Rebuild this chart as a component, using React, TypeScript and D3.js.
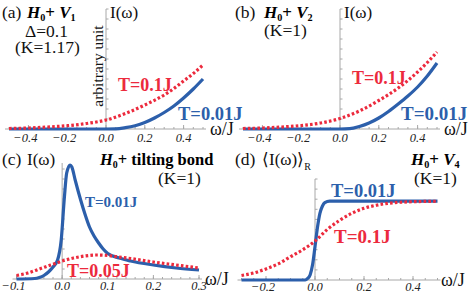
import React from 'react'
import * as d3 from 'd3'

const FONT = '"Liberation Serif", "Times New Roman", serif'
const BLUE = '#2c5fab'
const RED = '#ec2a3d'
const AXIS = '#a8a8a8'

// [omega/J, intensity (arbitrary unit)]
const redA = [[-0.5, 0.05], [-0.4, 0.1], [-0.3, 0.2], [-0.2, 0.33], [-0.1, 0.55], [0, 0.9], [0.1, 1.55], [0.2, 2.4], [0.3, 3.4], [0.35, 4.05], [0.4, 4.8], [0.45, 5.55], [0.5, 6.4]]
const blueA = [[-0.5, 0], [0, 0], [0.05, 0.01], [0.1, 0.13], [0.15, 0.33], [0.2, 0.65], [0.25, 1.1], [0.3, 1.65], [0.35, 2.3], [0.4, 3.1], [0.45, 4.0], [0.5, 5.0]]
const redB = [[-0.5, 0.05], [-0.4, 0.1], [-0.3, 0.2], [-0.2, 0.35], [-0.1, 0.6], [0, 1.05], [0.1, 1.8], [0.2, 2.85], [0.3, 4.1], [0.35, 4.85], [0.4, 5.7], [0.45, 6.65], [0.5, 7.7]]
const blueB = [[-0.5, 0], [0, 0], [0.05, 0.03], [0.1, 0.25], [0.15, 0.6], [0.2, 1.1], [0.25, 1.75], [0.3, 2.5], [0.35, 3.3], [0.4, 4.2], [0.45, 5.3], [0.5, 6.6]]
const blueC = [[-0.1, 0], [-0.06, 0.05], [-0.05, 0.15], [-0.04, 0.35], [-0.03, 0.7], [-0.02, 1.2], [-0.01, 1.9], [-0.002, 3.9], [0.005, 8.2], [0.01, 10.6], [0.0175, 11.4], [0.0213, 11.2], [0.0286, 9.9], [0.04, 8.0], [0.05, 6.5], [0.06, 5.2], [0.07, 4.3], [0.08, 3.6], [0.09, 3.0], [0.1, 2.55], [0.125, 2.1], [0.15, 1.8], [0.2, 1.4], [0.25, 1.1], [0.3, 0.9]]
const redC = [[-0.1, 0.35], [-0.075, 0.6], [-0.05, 1.0], [-0.025, 1.4], [0, 1.8], [0.025, 2.1], [0.05, 2.3], [0.075, 2.4], [0.1, 2.35], [0.125, 2.2], [0.15, 2.05], [0.2, 1.7], [0.25, 1.4], [0.3, 1.1]]
const blueD = [[-0.3, 0], [-0.04, 0], [-0.03, 0.15], [-0.02, 0.5], [-0.01, 1.5], [0, 3.3], [0.01, 5.2], [0.02, 6.6], [0.03, 7.3], [0.04, 7.65], [0.06, 7.8], [0.5, 7.8]]
const redD = [[-0.3, 0.45], [-0.25, 0.7], [-0.2, 1.1], [-0.15, 1.6], [-0.1, 2.3], [-0.05, 3.0], [0, 3.85], [0.05, 5.0], [0.1, 5.9], [0.15, 6.6], [0.2, 7.1], [0.25, 7.4], [0.3, 7.6], [0.35, 7.7], [0.4, 7.75], [0.5, 7.8]]

const ticksAB = [-0.4, -0.2, 0, 0.2, 0.4]
const ticksC = [-0.1, 0, 0.1, 0.2, 0.3]
const ticksD = [-0.2, 0, 0.2, 0.4]

const fmt = (v: number) => (v < 0 ? '\u2212' : '') + Math.abs(v).toFixed(1)

function Ham({ x, y, sub, size = 17, rest }: any) {
  return (
    <text x={x} y={y} fontFamily={FONT} fontSize={size} fontWeight="bold">
      <tspan fontStyle="italic">H</tspan>
      <tspan fontSize={size * 0.6} dy={3}>0</tspan>
      <tspan dy={-3}>+ </tspan>
      {rest ? <tspan>{rest}</tspan> : (
        <>
          <tspan fontStyle="italic">V</tspan>
          <tspan fontSize={size * 0.6} dy={3}>{sub}</tspan>
        </>
      )}
    </text>
  )
}

function Panel({ p }: any) {
  const x = d3.scaleLinear().domain(p.xDomain).range(p.xRange)
  const y = d3.scaleLinear().domain([0, p.yMax]).range([p.axisY, p.topY])
  const line = d3.line<number[]>().x((d) => x(d[0])).y((d) => y(d[1])).curve(d3.curveMonotoneX)
  const minor = d3.range(p.xDomain[0], p.xDomain[1] + 1e-9, p.minorStep)
  const x0 = x(0)
  return (
    <g>
      {/* axes */}
      <line x1={p.xRange[0] - 4} x2={p.xRange[1] + 3} y1={p.axisY} y2={p.axisY} stroke={AXIS} strokeWidth={1} />
      <line x1={x0} x2={x0} y1={p.axisY} y2={p.topY} stroke={AXIS} strokeWidth={1} />
      {minor.map((v, i) => (
        <line key={'m' + i} x1={x(v)} x2={x(v)} y1={p.axisY} y2={p.axisY - 2} stroke={AXIS} />
      ))}
      {p.ticks.map((v: number) => (
        <g key={v}>
          <line x1={x(v)} x2={x(v)} y1={p.axisY} y2={p.axisY - 4} stroke={AXIS} />
          <text x={x(v) - (v < 0 ? 3 : 0)} y={p.axisY + p.labelDy} textAnchor="middle" fontFamily={FONT} fontStyle="italic" fontSize={12.5} fill="#222">{fmt(v)}</text>
        </g>
      ))}
      {d3.range(1, p.yMax + 1e-9, 1).map((v) => (
        <line key={'y' + v} x1={x0} x2={x0 + 2.5} y1={y(v)} y2={y(v)} stroke={AXIS} />
      ))}
      {/* curves */}
      <path d={line(p.blue as any) || ''} fill="none" stroke={BLUE} strokeWidth={3.2} strokeLinejoin="round" />
      <path d={line(p.red as any) || ''} fill="none" stroke={RED} strokeWidth={3.2} strokeDasharray="2.6 2.2" />
      <text x={p.omegaX} y={p.axisY + 6} fontFamily={FONT} fontSize={18} fill="#111">ω/J</text>
    </g>
  )
}

const panels = [
  { xDomain: [-0.5, 0.5], xRange: [9, 203], yMax: 12, axisY: 129, topY: 9, ticks: ticksAB, minorStep: 0.05, labelDy: 13, red: redA, blue: blueA, omegaX: 210 },
  { xDomain: [-0.5, 0.5], xRange: [243, 437], yMax: 12, axisY: 129, topY: 9, ticks: ticksAB, minorStep: 0.05, labelDy: 13, red: redB, blue: blueB, omegaX: 444 },
  { xDomain: [-0.1, 0.3], xRange: [16.5, 199], yMax: 11.6, axisY: 279, topY: 163, ticks: ticksC, minorStep: 0.02, labelDy: 11, red: redC, blue: blueC, omegaX: 205 },
  { xDomain: [-0.3, 0.5], xRange: [241.5, 437.5], yMax: 10, axisY: 280, topY: 179, ticks: ticksD, minorStep: 0.05, labelDy: 11, red: redD, blue: blueD, omegaX: 441 },
]

export default function App() {
  const t = { fontFamily: FONT, fill: '#111' }
  const lab = { fontFamily: FONT, fontWeight: 'bold' as const }
  return (
    <svg width={469} height={294} style={{ position: 'absolute', left: 0, top: 0, background: '#fff' }}>
      {panels.map((p, i) => <Panel key={i} p={p} />)}

      {/* (a) */}
      <text x={2} y={18} fontSize={17.5} {...t}>(a)</text>
      <Ham x={27} y={18} sub="1" />
      <text x={110} y={18} fontSize={17} {...t}>I(ω)</text>
      <text x={25} y={37} fontSize={17.5} {...t}>Δ=0.1</text>
      <text x={15} y={53} fontSize={17.5} {...t}>(K=1.17)</text>
      <text transform="translate(103,66) rotate(-90)" textAnchor="middle" fontSize={15.5} {...t}>arbitrary unit</text>
      <text x={118} y={91} fontSize={18} fill={RED} {...lab}>T=0.1J</text>
      <text x={178} y={120} fontSize={18.5} fill={BLUE} {...lab}>T=0.01J</text>

      {/* (b) */}
      <text x={235} y={18} fontSize={17.5} {...t}>(b)</text>
      <Ham x={264} y={18} sub="2" />
      <text x={344} y={18} fontSize={17} {...t}>I(ω)</text>
      <text x={264} y={36} fontSize={17.5} {...t}>(K=1)</text>
      <text x={352} y={84} fontSize={18} fill={RED} {...lab}>T=0.1J</text>
      <text x={401} y={120} fontSize={19} fill={BLUE} {...lab}>T=0.01J</text>

      {/* (c) */}
      <text x={2} y={165} fontSize={17.5} {...t}>(c)</text>
      <text x={27} y={165} fontSize={17} {...t}>I(ω)</text>
      <Ham x={100} y={165} size={16.5} rest="tilting bond" />
      <text x={158} y={184} fontSize={17.5} {...t}>(K=1)</text>
      <text x={85} y={207} fontSize={15} fill={BLUE} {...lab}>T=0.01J</text>
      <text x={67} y={277} fontSize={18} fill={RED} {...lab}>T=0.05J</text>

      {/* (d) */}
      <text x={235} y={165} fontSize={17.5} {...t}>(d)</text>
      <text x={262} y={165} fontSize={17} {...t}>⟨I(ω)⟩<tspan fontSize={10} dy={5}>R</tspan></text>
      <Ham x={411} y={165} sub="4" />
      <text x={414} y={184} fontSize={17.5} {...t}>(K=1)</text>
      <text x={331} y={197} fontSize={18.5} fill={BLUE} {...lab}>T=0.01J</text>
      <text x={334} y={243} fontSize={19} fill={RED} {...lab}>T=0.1J</text>
    </svg>
  )
}
